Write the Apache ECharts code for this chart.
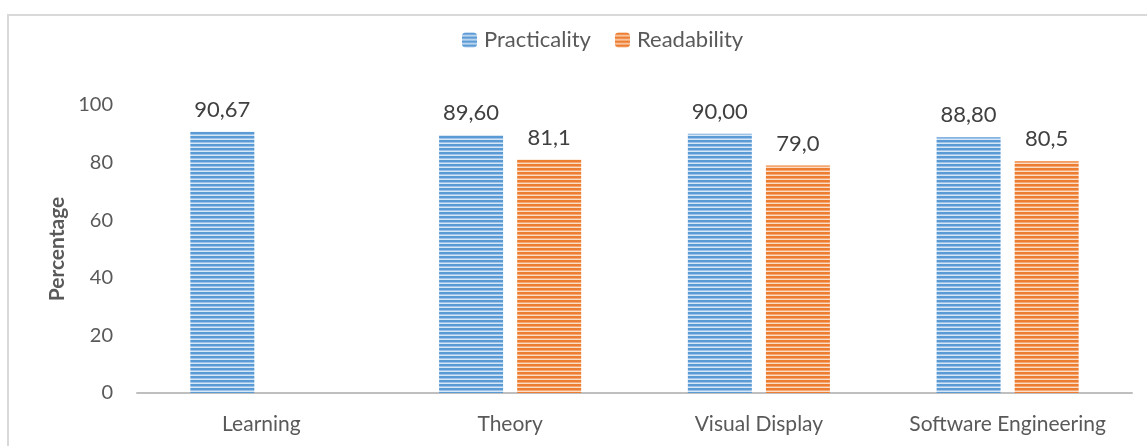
<!DOCTYPE html>
<html><head><meta charset="utf-8">
<script src="https://cdn.jsdelivr.net/npm/echarts@6/dist/echarts.min.js"></script>
<style>html,body{margin:0;padding:0;background:#fff}#c{width:1147px;height:446px}</style>
</head><body><div id="c"></div>
<script>
const categories = ['Learning', 'Theory', 'Visual Display', 'Software Engineering'];
const practicality = [90.67, 89.60, 90.00, 88.80];
const readability = [null, 81.1, 79.0, 80.5];
const practicalityLabels = ['90,67', '89,60', '90,00', '88,80'];
const readabilityLabels = ['', '81,1', '79,0', '80,5'];
const yTicks = [0, 20, 40, 60, 80, 100];

function stripes(dark, light, mid) {
  const c = document.createElement('canvas');
  c.width = 8; c.height = 4;
  const g = c.getContext('2d');
  g.fillStyle = dark; g.fillRect(0, 0, 8, 2);
  g.fillStyle = mid; g.fillRect(0, 2, 8, 1);
  g.fillStyle = light; g.fillRect(0, 3, 8, 1);
  return { image: c, repeat: 'repeat' };
}
const blue = stripes('#5b9bd5', '#d6e6f5', '#9ec3e8');
const orange = stripes('#ed7d31', '#fbdcc6', '#f4a873');

const font = 'Lato, "Open Sans", sans-serif';
const chart = echarts.init(document.getElementById('c'));
chart.setOption({
  animation: false,
  textStyle: { fontFamily: font },
  graphic: [{
    type: 'polyline',
    shape: { points: [[8, 446], [8, 15], [1147, 15]] },
    style: { stroke: '#d9d9d9', lineWidth: 2, fill: null }
  }],
  legend: {
    top: 24, left: 457, itemWidth: 15, itemHeight: 15, itemGap: 24,
    textStyle: { fontSize: 22, color: '#595959', fontFamily: font, padding: [0, 0, 0, 2] },
    data: [
      { name: 'Practicality', itemStyle: { color: blue } },
      { name: 'Readability', itemStyle: { color: orange } }
    ]
  },
  grid: { left: 137, right: 15, top: 105, bottom: 53 },
  xAxis: {
    type: 'category', data: categories,
    axisLine: { lineStyle: { color: '#bfbfbf', width: 2 } },
    axisTick: { show: false },
    axisLabel: { interval: 0, hideOverlap: false, fontSize: 21, color: '#595959', margin: 21, fontFamily: font }
  },
  yAxis: {
    type: 'value', min: 0, max: 100, interval: 20,
    name: 'Percentage', nameLocation: 'middle', nameGap: 67,
    nameTextStyle: { fontSize: 21, fontWeight: 'bold', color: '#595959', fontFamily: font },
    axisLine: { show: false }, axisTick: { show: false },
    splitLine: { show: false },
    axisLabel: { fontSize: 20, color: '#595959', margin: 24, fontFamily: font,
      formatter: v => yTicks.includes(v) ? String(v) : '' }
  },
  series: [
    { name: 'Practicality', type: 'bar', data: practicality,
      barWidth: 64, barGap: '22%', itemStyle: { color: blue },
      label: { show: true, position: 'top', distance: 11, fontSize: 22, color: '#404040', fontFamily: font,
        formatter: p => practicalityLabels[p.dataIndex] } },
    { name: 'Readability', type: 'bar', data: readability,
      barWidth: 64, itemStyle: { color: orange },
      label: { show: true, position: 'top', distance: 11, fontSize: 22, color: '#404040', fontFamily: font,
        formatter: p => readabilityLabels[p.dataIndex] } }
  ]
});
</script></body></html>
